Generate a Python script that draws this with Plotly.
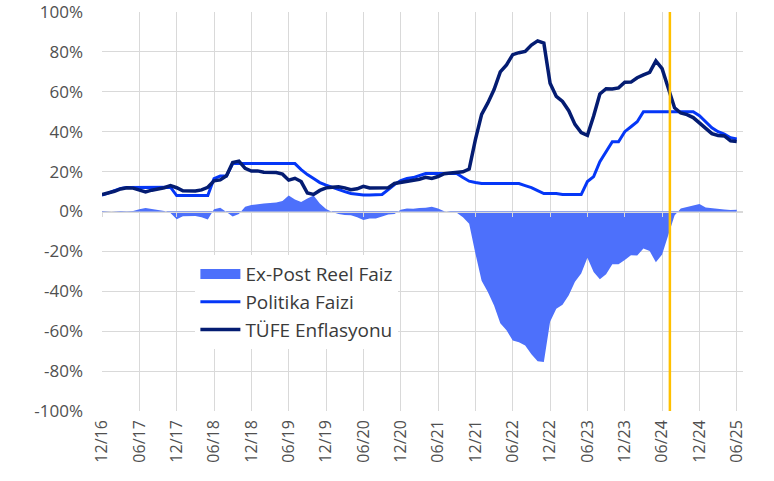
import pandas as pd
import plotly.graph_objects as go

# ---- data (monthly, 12/2016 - 06/2025) ----
months = list(pd.date_range("2016-12-01", periods=103, freq="MS").strftime("%m/%y"))

tick_labels = ["12/16", "06/17", "12/17", "06/18", "12/18", "06/19", "12/19", "06/20", "12/20",
               "06/21", "12/21", "06/22", "12/22", "06/23", "12/23", "06/24", "12/24", "06/25"]

y_tick_values = [100, 80, 60, 40, 20, 0, -20, -40, -60, -80, -100]
y_tick_labels = ["100%", "80%", "60%", "40%", "20%", "0%", "-20%", "-40%", "-60%", "-80%", "-100%"]

policy_rate = [
    8.3,
    9.2, 10.5, 11.6, 12.0, 12.0, 12.0, 12.0, 12.0, 12.0, 12.2, 12.2, 8.0,        # 2017
    8.0, 8.0, 8.0, 8.0, 8.0, 16.5, 17.75, 17.75, 24.0, 24.0, 24.0, 24.0,         # 2018
    24.0, 24.0, 24.0, 24.0, 24.0, 24.0, 24.0, 21.0, 18.5, 16.5, 14.5, 13.2,      # 2019
    12.0, 11.0, 10.0, 9.0, 8.5, 8.25, 8.25, 8.25, 8.5, 11.0, 13.5, 15.5,         # 2020
    16.5, 17.0, 18.0, 19.0, 19.0, 19.0, 19.0, 19.0, 19.0, 17.0, 15.2, 14.5,      # 2021
    14.0, 14.0, 14.0, 14.0, 14.0, 14.0, 14.0, 13.0, 12.0, 10.5, 9.0, 9.0,        # 2022
    9.0, 8.5, 8.5, 8.5, 8.5, 15.0, 17.5, 25.0, 30.0, 35.0, 35.0, 40.0,           # 2023
    42.5, 45.0, 50.0, 50.0, 50.0, 50.0, 50.0, 50.0, 50.0, 50.0, 50.0, 48.0,      # 2024
    45.0, 42.0, 40.0, 38.8, 37.0, 36.3,                                          # 2025
]

cpi_inflation = [
    8.53,
    9.22, 10.13, 11.29, 11.87, 11.72, 10.90, 9.79, 10.68, 11.20, 11.90, 12.98, 11.92,   # 2017
    10.35, 10.26, 10.23, 10.85, 12.15, 15.39, 15.85, 17.90, 24.52, 25.24, 21.62, 20.30, # 2018
    20.35, 19.67, 19.71, 19.50, 18.71, 15.72, 16.65, 15.01, 9.26, 8.55, 10.56, 11.84,   # 2019
    12.15, 12.37, 11.86, 10.94, 11.39, 12.62, 11.76, 11.77, 11.75, 11.89, 14.03, 14.60, # 2020
    14.97, 15.61, 16.19, 17.14, 16.59, 17.53, 18.95, 19.25, 19.58, 19.89, 21.31, 36.08, # 2021
    48.69, 54.44, 61.14, 69.97, 73.50, 78.62, 79.60, 80.21, 83.45, 85.51, 84.39, 64.27, # 2022
    57.68, 55.18, 50.51, 43.68, 39.59, 38.21, 47.83, 58.94, 61.53, 61.36, 61.98, 64.77, # 2023
    64.86, 67.07, 68.50, 69.80, 75.45, 71.60, 61.78, 51.97, 49.38, 48.58, 47.09, 44.38, # 2024
    42.12, 39.05, 38.10, 37.86, 35.41, 35.05,                                           # 2025
]

real_rate = [
    -0.2,
    0.0, 0.4, 0.3, 0.1, 0.3, 1.1, 1.8, 1.3, 0.8, 0.3, -0.8, -3.9,                      # 2017
    -2.4, -2.3, -2.2, -2.9, -4.0, 1.1, 1.9, -0.2, -2.5, -1.2, 2.4, 3.2,                # 2018
    3.7, 4.0, 4.3, 4.5, 5.3, 8.0, 6.0, 4.8, 6.5, 8.0, 4.0, 1.2,                        # 2019
    -0.2, -1.3, -1.8, -1.9, -2.9, -4.2, -3.5, -3.5, -2.5, -1.5, -1.2, 0.9,             # 2020
    1.5, 1.4, 1.8, 1.9, 2.4, 1.5, 0.1, -0.3, -0.6, -2.9, -6.1, -21.0,                  # 2021
    -34.7, -40.4, -47.1, -56.0, -59.5, -64.6, -65.6, -67.2, -71.5, -75.0, -75.4, -55.3, # 2022
    -48.7, -46.7, -42.0, -35.2, -31.1, -23.2, -30.3, -33.9, -31.5, -26.4, -26.5, -24.3, # 2023
    -21.9, -22.1, -18.5, -19.8, -25.5, -21.6, -11.8, -2.0, 1.5, 2.2, 3.0, 3.7,         # 2024
    2.0, 1.6, 1.3, 1.0, 0.8, 0.9,                                                      # 2025
]

marker_line_pos = 91.25   # orange reference line, months after 12/16 (mid 07/24)

assert len(policy_rate) == len(cpi_inflation) == len(real_rate) == len(months)

# ---- styles ----
AREA = "#4D70FB"
BLUE = "#0537F7"
NAVY = "#041C72"
GRID = "#D9D9D9"
TXT = "#505050"
FONT = "Open Sans"

fig = go.Figure()

fig.add_trace(go.Scatter(x=months, y=real_rate, mode="lines", fill="tozeroy",
                         fillcolor=AREA, line=dict(width=0, color=AREA),
                         showlegend=False, hoverinfo="skip"))
# legend entry for the area
fig.add_trace(go.Scatter(x=[None], y=[None], mode="lines", name="Ex-Post Reel Faiz",
                         line=dict(width=12, color=AREA), legendgroup="g1"))
fig.add_trace(go.Scatter(x=months, y=policy_rate, mode="lines", name="Politika Faizi",
                         line=dict(width=3, color=BLUE), legendgroup="g2"))
fig.add_trace(go.Scatter(x=months, y=cpi_inflation, mode="lines", name="TÜFE Enflasyonu",
                         line=dict(width=3.5, color=NAVY), legendgroup="g3",
                         xaxis="x2"))

fig.add_shape(type="line", xref="x", yref="paper", x0=marker_line_pos, x1=marker_line_pos,
              y0=0, y1=1, line=dict(color="#FFC000", width=2.5), layer="above")

fig.update_layout(
    width=774, height=481,
    margin=dict(l=102, r=31, t=12, b=70, autoexpand=False),
    paper_bgcolor="white", plot_bgcolor="white",
    font=dict(family=FONT, color=TXT),
    xaxis=dict(type="category", categoryorder="array", categoryarray=months,
               range=[0, 103], tickmode="array", tickvals=tick_labels, ticktext=tick_labels,
               tickangle=-90, showgrid=True, gridcolor=GRID, gridwidth=1,
               zeroline=False, showline=False, ticks="", automargin=False,
               tickfont=dict(family=FONT, size=16, color=TXT), ticklabelstandoff=5),
    xaxis2=dict(type="category", categoryorder="array", categoryarray=months,
                overlaying="x", anchor="free", position=0.5, range=[0, 103],
                tickmode="array", tickvals=tick_labels, showticklabels=False,
                showgrid=False, zeroline=False, showline=True, linecolor=GRID, linewidth=1,
                ticks="outside", ticklen=4, tickcolor=GRID, tickwidth=1, layer="above traces",
                automargin=False),
    yaxis=dict(range=[-100, 100], tickmode="array", tickvals=y_tick_values, ticktext=y_tick_labels,
               showgrid=True, gridcolor=GRID, gridwidth=1, zeroline=False, showline=False,
               ticks="", automargin=False, ticklabeloverflow="allow",
               tickfont=dict(family=FONT, size=17, color=TXT), ticklabelstandoff=18),
    legend=dict(x=0.1457, y=0.3905, xanchor="left", yanchor="top", bgcolor="white",
                font=dict(family=FONT, size=19, color="#3A3A3A"), itemwidth=40,
                tracegroupgap=7.5, traceorder="normal"),
    showlegend=True,
)

fig.write_html("out.html", config={"displayModeBar": False},
               post_script="document.body.style.margin='0';")
